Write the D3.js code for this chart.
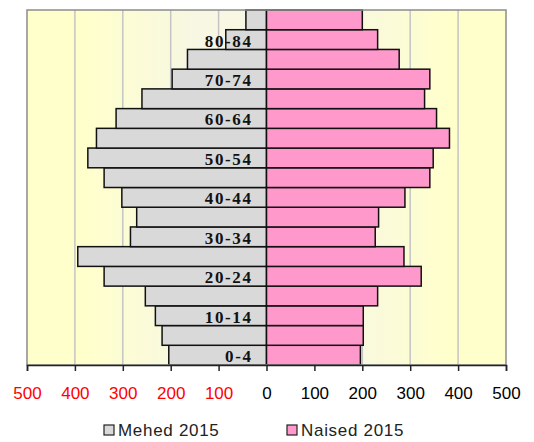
<!DOCTYPE html>
<html>
<meta charset="utf-8">
<head>
<script src="https://d3js.org/d3.v7.min.js"></script>
<style>
  body { margin: 0; background: #ffffff; }
  .tick text { font-family: "Liberation Sans", Arial, sans-serif; font-size: 17px; }
</style>
</head>
<body>
<div id="chart"></div>
<script>
// age groups, bottom to top
var ageGroups = ["0-4", "5-9", "10-14", "15-19", "20-24", "25-29", "30-34", "35-39", "40-44",
                 "45-49", "50-54", "55-59", "60-64", "65-69", "70-74", "75-79", "80-84", "85+"];
var males   = [204, 218, 232, 253, 339, 394, 284, 271, 302, 339, 373, 355, 314, 260, 197, 165, 85, 43];
var females = [196, 202, 202, 232, 323, 287, 227, 234, 289, 341, 348, 382, 355, 330, 341, 277, 232, 200];
var tickVals = [-500, -400, -300, -200, -100, 0, 100, 200, 300, 400, 500];
var legendNames = ["Mehed 2015", "Naised 2015"];

var W = 534, H = 442;
// plot area edges (note: "top" is reserved on window, so use plot*)
var plotL = 27, plotR = 506, plotT = 10, plotB = 365;

var svg = d3.select("#chart").append("svg")
    .attr("width", W)
    .attr("height", H);

// background gradient like the excel plot area
var grad = svg.append("defs").append("linearGradient")
    .attr("id", "bg")
    .attr("x1", "0%").attr("x2", "100%").attr("y1", "0%").attr("y2", "0%");
[[0, "#ffffcc"], [0.12, "#ffffcc"], [0.35, "#f7f7e3"], [0.65, "#f7f7e3"], [0.88, "#ffffcc"], [1, "#ffffcc"]]
    .forEach(function(s) {
        grad.append("stop").attr("offset", s[0]).attr("stop-color", s[1]);
    });

var x = d3.scaleLinear().domain([-500, 500]).range([plotL, plotR]);
var y = d3.scaleBand().domain(ageGroups.slice().reverse()).range([plotT, plotB]).padding(0);

svg.append("rect")
    .attr("x", plotL).attr("y", plotT)
    .attr("width", plotR - plotL).attr("height", plotB - plotT)
    .attr("fill", "url(#bg)");

// vertical gridlines
svg.selectAll(".grid")
    .data(tickVals.filter(function(d) { return d !== 0 && Math.abs(d) !== 500; }))
    .enter().append("line")
    .attr("x1", function(d) { return x(d); })
    .attr("x2", function(d) { return x(d); })
    .attr("y1", plotT).attr("y2", plotB)
    .attr("stroke", "#c4c4c4")
    .attr("stroke-width", 1.5);

// male bars (left)
svg.selectAll(".male")
    .data(ageGroups)
    .enter().append("rect")
    .attr("x", function(d, i) { return x(-males[i]); })
    .attr("y", function(d) { return y(d); })
    .attr("width", function(d, i) { return x(0) - x(-males[i]); })
    .attr("height", y.bandwidth())
    .attr("fill", "#d9d9d9")
    .attr("stroke", "#111")
    .attr("stroke-width", 1.5);

// female bars (right)
svg.selectAll(".female")
    .data(ageGroups)
    .enter().append("rect")
    .attr("x", x(0))
    .attr("y", function(d) { return y(d); })
    .attr("width", function(d, i) { return x(females[i]) - x(0); })
    .attr("height", y.bandwidth())
    .attr("fill", "#ff99cc")
    .attr("stroke", "#111")
    .attr("stroke-width", 1.5);

// plot border
svg.append("rect")
    .attr("x", plotL).attr("y", plotT)
    .attr("width", plotR - plotL).attr("height", plotB - plotT)
    .attr("fill", "none")
    .attr("stroke", "#8c8c8c")
    .attr("stroke-width", 1.5);

// age labels, every second group
svg.selectAll(".agelabel")
    .data(ageGroups.filter(function(d, i) { return i % 2 === 0; }))
    .enter().append("text")
    .attr("x", x(0) - 14)
    .attr("y", function(d) { return y(d) + y.bandwidth() / 2 + 7; })
    .attr("text-anchor", "end")
    .style("font-family", "'Liberation Serif', 'Times New Roman', serif")
    .style("font-weight", "bold")
    .style("font-size", "17px")
    .style("letter-spacing", "1.6px")
    .attr("fill", "#111")
    .text(function(d) { return d; });

// x axis
var xAxis = svg.append("g")
    .attr("transform", "translate(0," + plotB + ")")
    .call(d3.axisBottom(x)
        .tickValues(tickVals)
        .tickSize(6)
        .tickPadding(16)
        .tickFormat(function(d) { return Math.abs(d); }));
xAxis.select(".domain").attr("stroke", "#222").attr("stroke-width", 1.5);
xAxis.selectAll(".tick line").attr("stroke", "#222").attr("stroke-width", 1.5);
xAxis.selectAll(".tick text")
    .attr("fill", function(d) { return d < 0 ? "#ff0000" : "#000"; });

// legend
var legend = svg.selectAll(".legend")
    .data(legendNames)
    .enter().append("g")
    .attr("transform", function(d, i) { return "translate(" + (i === 0 ? 104 : 287) + ",425)"; });
legend.append("rect")
    .attr("width", 10).attr("height", 10)
    .attr("fill", function(d, i) { return i === 0 ? "#d9d9d9" : "#ff99cc"; })
    .attr("stroke", "#222")
    .attr("stroke-width", 1.2);
legend.append("text")
    .attr("x", 14).attr("y", 11)
    .style("font-family", "'Liberation Sans', Arial, sans-serif")
    .style("font-size", "17px")
    .style("letter-spacing", "0.7px")
    .attr("fill", "#222")
    .text(function(d) { return d; });
</script>
</body>
</html>
